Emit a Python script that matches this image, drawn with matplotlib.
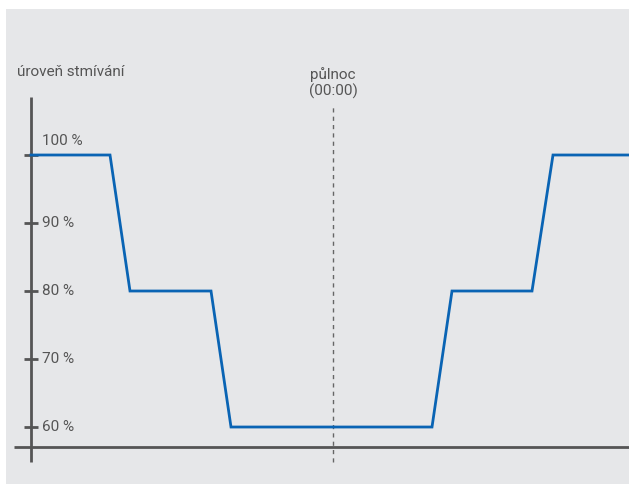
import matplotlib.pyplot as plt

# dimming profile (x = time offset around midnight, arbitrary units)
time = [-30.2, -22.3, -20.3, -12.2, -10.2, 9.9, 11.9, 19.9, 22.0, 29.6]
level = [100, 100, 80, 80, 60, 60, 80, 80, 100, 100]
ticks = [100, 90, 80, 70, 60]
tick_labels = ["100 %", "90 %", "80 %", "70 %", "60 %"]

plt.rcParams['font.family'] = ['Roboto', 'DejaVu Sans']

fig = plt.figure(figsize=(6.29, 4.84), dpi=100)
fig.patch.set_facecolor("white")
ax = fig.add_axes([6 / 629, 0, 623 / 629, 475 / 484])
ax.set_facecolor("#e6e7e9")
for s in ax.spines.values():
    s.set_visible(False)
ax.set_xticks([])
ax.set_yticks([])
ax.set_xlim(-32.7, 29.6)
ax.set_ylim(51.62, 121.47)

axis_col = "#555555"
text_col = "#555555"
fs = 11

# axes drawn by hand
ax.plot([-30.2, -30.2], [54.85, 108.5], color=axis_col, lw=2, solid_capstyle="butt")
ax.plot([-31.9, 29.6], [57.06, 57.06], color=axis_col, lw=2, solid_capstyle="butt")
for t, lab in zip(ticks, tick_labels):
    ax.plot([-30.9, -29.5], [t, t], color=axis_col, lw=2, solid_capstyle="butt")
    if t == 100:
        ax.text(-29.1, t + 1.0, lab, color=text_col, fontsize=fs, va="bottom", ha="left")
    else:
        ax.text(-29.1, t, lab, color=text_col, fontsize=fs, va="center", ha="left")

ax.text(-31.6, 112.2, "úroveň stmívání", color=text_col, fontsize=fs, va="center", ha="left")

# midnight marker
ax.plot([0, 0], [54.85, 107.3], color="#666666", lw=1, linestyle=(0, (3, 3)))
ax.text(0, 108.2, "půlnoc\n(00:00)", color=text_col, fontsize=fs, ha="center", va="bottom",
        linespacing=1.2)

ax.plot(time, level, color="#0a64b4", lw=2, solid_joinstyle="miter")

fig.savefig("out.png", dpi=100)
